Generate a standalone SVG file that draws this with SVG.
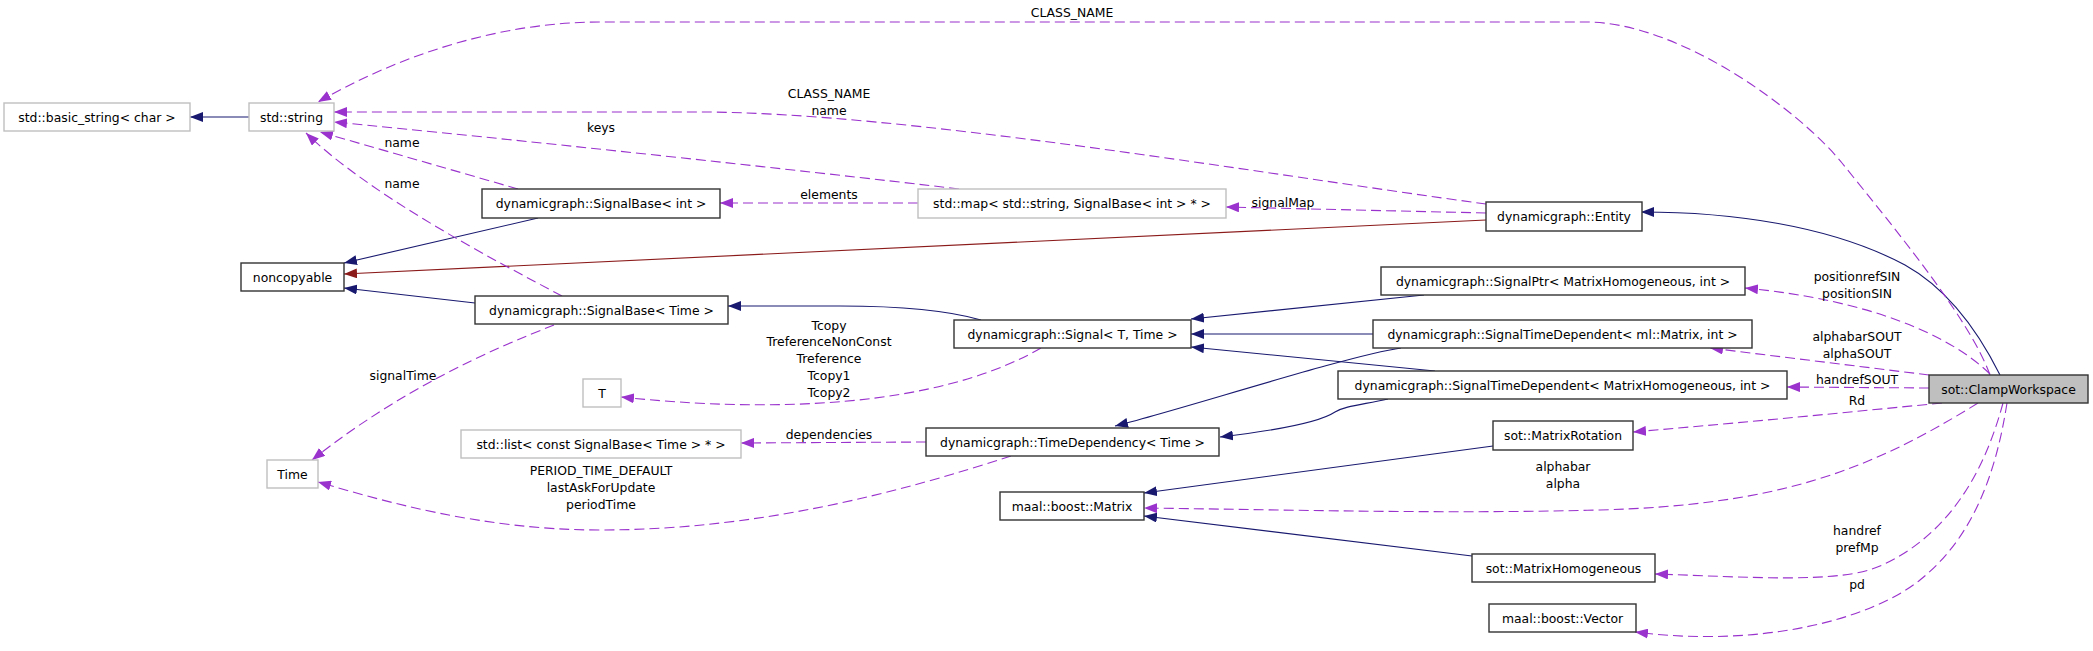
<svg xmlns="http://www.w3.org/2000/svg" width="2093" height="651" viewBox="0 0 2093 651">
<style>
text{font-family:"DejaVu Sans","Liberation Sans",sans-serif;font-size:12.4px;fill:#000;text-anchor:middle}
.nb{fill:#fff;stroke:#333;stroke-width:1.4}
.ng{fill:#fff;stroke:#bfbfbf;stroke-width:1.4}
.nf{fill:#bfbfbf;stroke:#333;stroke-width:1.4}
.inh{fill:none;stroke:#191970;stroke-width:1.1;marker-end:url(#an)}
.red{fill:none;stroke:#8b1a1a;stroke-width:1.1;marker-end:url(#ar)}
.use{fill:none;stroke:#9a32cd;stroke-width:1.1;stroke-dasharray:10,5;marker-end:url(#ap)}
</style>
<defs>
<marker id="an" markerUnits="userSpaceOnUse" viewBox="0 0 14 10" markerWidth="14" markerHeight="10" refX="13" refY="5" orient="auto"><path d="M0,0 L13,5 L0,10 z" fill="#191970"/></marker>
<marker id="ar" markerUnits="userSpaceOnUse" viewBox="0 0 14 10" markerWidth="14" markerHeight="10" refX="13" refY="5" orient="auto"><path d="M0,0 L13,5 L0,10 z" fill="#8b1a1a"/></marker>
<marker id="ap" markerUnits="userSpaceOnUse" viewBox="0 0 14 10" markerWidth="14" markerHeight="10" refX="13" refY="5" orient="auto"><path d="M0,0 L13,5 L0,10 z" fill="#9a32cd"/></marker>
</defs>
<rect width="2093" height="651" fill="#fff"/>
<g id="connectors">
<path class="inh" d="M249,117 L190,117"/>
<path class="inh" d="M538,218 L344,263"/>
<path class="inh" d="M475,303 L344,288"/>
<path class="red" d="M1486,220 L344,274"/>
<path class="inh" d="M2000,375 C1980,335 1950,290 1905,265 C1830,225 1730,212 1641,212"/>
<path class="use" d="M1990,375 C1970,320 1900,235 1842,163 C1800,111 1680,22 1586,22 L600,22 C500,22 400,55 318,102"/>
<text x="1072" y="17">CLASS_NAME</text>
<path class="use" d="M1486,204 C1250,172 900,112 700,112 L334,112"/>
<text x="829" y="98">CLASS_NAME</text>
<text x="829" y="115">name</text>
<path class="use" d="M959,189 C800,170 500,138 334,122"/>
<text x="601" y="132">keys</text>
<path class="use" d="M518,189 L320,132"/>
<text x="402" y="147">name</text>
<path class="use" d="M562,296 C490,258 370,195 306,133"/>
<text x="402" y="188">name</text>
<path class="use" d="M918,203 L720,203"/>
<text x="829" y="199">elements</text>
<path class="use" d="M1486,213 L1226,207"/>
<text x="1283" y="207">signalMap</text>
<path class="inh" d="M981,320 C950,311 900,306 840,306 L728,306"/>
<path class="use" d="M554,325 C490,350 400,390 312,460"/>
<text x="403" y="380">signalTime</text>
<path class="use" d="M1041,348 C960,395 820,418 621,397"/>
<text x="829" y="329.5">Tcopy</text>
<text x="829" y="346">TreferenceNonConst</text>
<text x="829" y="363">Treference</text>
<text x="829" y="380">Tcopy1</text>
<text x="829" y="397">Tcopy2</text>
<path class="use" d="M926,442 L741,443"/>
<text x="829" y="438.5">dependencies</text>
<path class="use" d="M1011,456 C900,492 760,530 600,530 C480,530 380,500 318,482"/>
<text x="601" y="475">PERIOD_TIME_DEFAULT</text>
<text x="601" y="492">lastAskForUpdate</text>
<text x="601" y="509">periodTime</text>
<path class="inh" d="M1424,295 L1191,319"/>
<path class="inh" d="M1373,334 L1191,334"/>
<path class="inh" d="M1435,371 L1191,347"/>
<path class="inh" d="M1401,348 C1350,355 1180,410 1115,426"/>
<path class="inh" d="M1388,399 C1360,405 1345,406 1335,412 C1320,422 1280,430 1220,437"/>
<path class="inh" d="M1493,446 L1144,493"/>
<path class="inh" d="M1472,556 L1144,516"/>
<path class="use" d="M1978,403 C1870,470 1780,505 1600,510 C1450,514 1300,510 1144,508"/>
<text x="1563" y="471">alphabar</text>
<text x="1563" y="488">alpha</text>
<path class="use" d="M1990,374 C1950,335 1870,300 1745,288"/>
<text x="1857" y="281">positionrefSIN</text>
<text x="1857" y="298">positionSIN</text>
<path class="use" d="M1929,375 L1710,348"/>
<text x="1857" y="340.5">alphabarSOUT</text>
<text x="1857" y="357.5">alphaSOUT</text>
<path class="use" d="M1929,388 L1787,387"/>
<text x="1857" y="383.5">handrefSOUT</text>
<path class="use" d="M1942,403 C1850,412 1750,422 1633,432"/>
<text x="1857" y="404.5">Rd</text>
<path class="use" d="M2003,403 C1985,470 1950,535 1880,566 C1840,584 1750,577 1655,574"/>
<text x="1857" y="534.5">handref</text>
<text x="1857" y="551.5">prefMp</text>
<path class="use" d="M2007,403 C1995,480 1970,540 1920,580 C1870,620 1760,648 1635,632"/>
<text x="1857" y="588.5">pd</text>
</g>
<g id="basic_string"><rect class="ng" x="4" y="103" width="186" height="28"/><text x="97" y="121.5">std::basic_string&lt; char &gt;</text></g>
<g id="std_string"><rect class="ng" x="249" y="103" width="85" height="28"/><text x="291.5" y="121.5">std::string</text></g>
<g id="noncopyable"><rect class="nb" x="241" y="263" width="103" height="28"/><text x="292.5" y="281.5">noncopyable</text></g>
<g id="signalbase_int"><rect class="nb" x="482" y="189" width="238" height="29"/><text x="601" y="208">dynamicgraph::SignalBase&lt; int &gt;</text></g>
<g id="signalbase_time"><rect class="nb" x="475" y="296" width="253" height="28"/><text x="601.5" y="314.5">dynamicgraph::SignalBase&lt; Time &gt;</text></g>
<g id="time"><rect class="ng" x="267" y="460" width="51" height="28"/><text x="292.5" y="478.5">Time</text></g>
<g id="t"><rect class="ng" x="583" y="379" width="38" height="28"/><text x="602" y="397.5">T</text></g>
<g id="std_list"><rect class="ng" x="461" y="430" width="280" height="28"/><text x="601" y="448.5">std::list&lt; const SignalBase&lt; Time &gt; * &gt;</text></g>
<g id="std_map"><rect class="ng" x="918" y="189" width="308" height="29"/><text x="1072" y="208">std::map&lt; std::string, SignalBase&lt; int &gt; * &gt;</text></g>
<g id="entity"><rect class="nb" x="1486" y="202" width="156" height="29"/><text x="1564" y="221">dynamicgraph::Entity</text></g>
<g id="signal"><rect class="nb" x="954" y="320" width="237" height="28"/><text x="1072.5" y="338.5">dynamicgraph::Signal&lt; T, Time &gt;</text></g>
<g id="timedependency"><rect class="nb" x="926" y="428" width="293" height="28"/><text x="1072.5" y="446.5">dynamicgraph::TimeDependency&lt; Time &gt;</text></g>
<g id="maal_matrix"><rect class="nb" x="1000" y="492" width="144" height="28"/><text x="1072" y="510.5">maal::boost::Matrix</text></g>
<g id="signalptr"><rect class="nb" x="1381" y="267" width="364" height="28"/><text x="1563" y="285.5">dynamicgraph::SignalPtr&lt; MatrixHomogeneous, int &gt;</text></g>
<g id="std_ml"><rect class="nb" x="1373" y="320" width="379" height="28"/><text x="1562.5" y="338.5">dynamicgraph::SignalTimeDependent&lt; ml::Matrix, int &gt;</text></g>
<g id="std_mh"><rect class="nb" x="1338" y="371" width="449" height="28"/><text x="1562.5" y="389.5">dynamicgraph::SignalTimeDependent&lt; MatrixHomogeneous, int &gt;</text></g>
<g id="clampworkspace"><rect class="nf" x="1929" y="375" width="159" height="28"/><text x="2008.5" y="393.5">sot::ClampWorkspace</text></g>
<g id="matrixrotation"><rect class="nb" x="1493" y="421" width="140" height="29"/><text x="1563" y="440">sot::MatrixRotation</text></g>
<g id="matrixhomogeneous"><rect class="nb" x="1472" y="554" width="183" height="28"/><text x="1563.5" y="572.5">sot::MatrixHomogeneous</text></g>
<g id="maal_vector"><rect class="nb" x="1489" y="604" width="147" height="28"/><text x="1562.5" y="622.5">maal::boost::Vector</text></g>
</svg>
